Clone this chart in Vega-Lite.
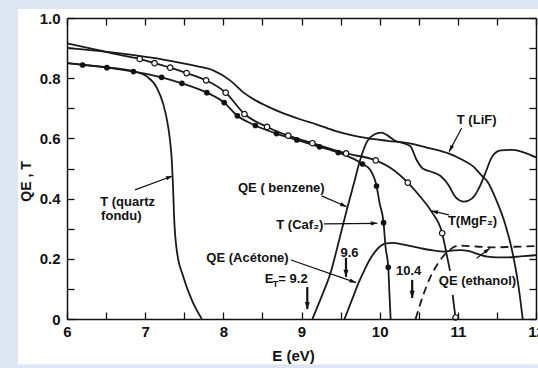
{
  "$schema": "https://vega.github.io/schema/vega-lite/v6.json",
  "width": 469,
  "height": 301,
  "autosize": {"type": "none"},
  "padding": {"left": 67, "top": 18, "right": 2, "bottom": 49},
  "background": "#dde7f3",
  "config": {
    "view": {"stroke": null},
    "axis": {
      "domainColor": "#111",
      "domainWidth": 1.5,
      "tickColor": "#111",
      "tickWidth": 1.3,
      "tickSize": -7,
      "grid": false,
      "labelFont": "Liberation Sans",
      "labelFontWeight": "bold",
      "labelFontSize": 15,
      "labelColor": "#111",
      "labelOverlap": false,
      "labelFlush": false,
      "titleFont": "Liberation Sans",
      "titleFontWeight": "bold",
      "titleFontSize": 14,
      "titleColor": "#111"
    }
  },
  "datasets": {
    "curves": [
      {"s": "T (LiF)", "part": 1, "E": 6.0, "v": 0.901},
      {"s": "T (LiF)", "part": 1, "E": 6.4, "v": 0.891},
      {"s": "T (LiF)", "part": 1, "E": 6.81, "v": 0.878},
      {"s": "T (LiF)", "part": 1, "E": 7.23, "v": 0.862},
      {"s": "T (LiF)", "part": 1, "E": 7.66, "v": 0.84},
      {"s": "T (LiF)", "part": 1, "E": 7.87, "v": 0.826},
      {"s": "T (LiF)", "part": 1, "E": 8.09, "v": 0.792},
      {"s": "T (LiF)", "part": 1, "E": 8.26, "v": 0.752},
      {"s": "T (LiF)", "part": 1, "E": 8.4, "v": 0.728},
      {"s": "T (LiF)", "part": 1, "E": 8.55, "v": 0.708},
      {"s": "T (LiF)", "part": 1, "E": 8.77, "v": 0.683},
      {"s": "T (LiF)", "part": 1, "E": 9.0, "v": 0.662},
      {"s": "T (LiF)", "part": 1, "E": 9.2, "v": 0.646},
      {"s": "T (LiF)", "part": 1, "E": 9.43, "v": 0.625},
      {"s": "T (LiF)", "part": 1, "E": 9.65, "v": 0.61},
      {"s": "T (LiF)", "part": 1, "E": 9.86, "v": 0.6},
      {"s": "T (LiF)", "part": 1, "E": 10.1, "v": 0.592},
      {"s": "T (LiF)", "part": 1, "E": 10.4, "v": 0.583},
      {"s": "T (LiF)", "part": 1, "E": 10.63, "v": 0.568},
      {"s": "T (LiF)", "part": 1, "E": 10.88, "v": 0.55},
      {"s": "T (LiF)", "part": 1, "E": 11.05, "v": 0.53},
      {"s": "T (LiF)", "part": 1, "E": 11.2, "v": 0.506},
      {"s": "T (LiF)", "part": 1, "E": 11.3, "v": 0.478},
      {"s": "T (LiF)", "part": 1, "E": 11.38, "v": 0.456},
      {"s": "T (LiF)", "part": 1, "E": 11.5, "v": 0.39},
      {"s": "T (LiF)", "part": 1, "E": 11.6, "v": 0.32},
      {"s": "T (LiF)", "part": 1, "E": 11.7, "v": 0.22},
      {"s": "T (LiF)", "part": 1, "E": 11.77, "v": 0.12},
      {"s": "T (LiF)", "part": 1, "E": 11.83, "v": 0.0},

      {"s": "T (MgF2)", "part": 1, "E": 6.0, "v": 0.916},
      {"s": "T (MgF2)", "part": 1, "E": 6.4, "v": 0.893},
      {"s": "T (MgF2)", "part": 1, "E": 6.7, "v": 0.876},
      {"s": "T (MgF2)", "part": 1, "E": 6.93, "v": 0.864, "m": 1},
      {"s": "T (MgF2)", "part": 1, "E": 7.12, "v": 0.85, "m": 1},
      {"s": "T (MgF2)", "part": 1, "E": 7.32, "v": 0.835, "m": 1},
      {"s": "T (MgF2)", "part": 1, "E": 7.53, "v": 0.817, "m": 1},
      {"s": "T (MgF2)", "part": 1, "E": 7.78, "v": 0.793, "m": 1},
      {"s": "T (MgF2)", "part": 1, "E": 8.03, "v": 0.752, "m": 1},
      {"s": "T (MgF2)", "part": 1, "E": 8.27, "v": 0.681, "m": 1},
      {"s": "T (MgF2)", "part": 1, "E": 8.56, "v": 0.638, "m": 1},
      {"s": "T (MgF2)", "part": 1, "E": 8.83, "v": 0.609, "m": 1},
      {"s": "T (MgF2)", "part": 1, "E": 9.14, "v": 0.584, "m": 1},
      {"s": "T (MgF2)", "part": 1, "E": 9.57, "v": 0.55, "m": 1},
      {"s": "T (MgF2)", "part": 1, "E": 9.95, "v": 0.527, "m": 1},
      {"s": "T (MgF2)", "part": 1, "E": 10.15, "v": 0.5},
      {"s": "T (MgF2)", "part": 1, "E": 10.36, "v": 0.453, "m": 1},
      {"s": "T (MgF2)", "part": 1, "E": 10.52, "v": 0.406},
      {"s": "T (MgF2)", "part": 1, "E": 10.665, "v": 0.356},
      {"s": "T (MgF2)", "part": 1, "E": 10.8, "v": 0.285, "m": 1},
      {"s": "T (MgF2)", "part": 1, "E": 10.85, "v": 0.224},
      {"s": "T (MgF2)", "part": 1, "E": 10.9, "v": 0.16},
      {"s": "T (MgF2)", "part": 2, "E": 10.934, "v": 0.08},
      {"s": "T (MgF2)", "part": 2, "E": 10.97, "v": 0.005, "m": 1},

      {"s": "T (CaF2)", "part": 1, "E": 6.0, "v": 0.85},
      {"s": "T (CaF2)", "part": 1, "E": 6.2, "v": 0.844, "m": 1},
      {"s": "T (CaF2)", "part": 1, "E": 6.51, "v": 0.835, "m": 1},
      {"s": "T (CaF2)", "part": 1, "E": 6.85, "v": 0.822, "m": 1},
      {"s": "T (CaF2)", "part": 1, "E": 7.21, "v": 0.803, "m": 1},
      {"s": "T (CaF2)", "part": 1, "E": 7.47, "v": 0.783, "m": 1},
      {"s": "T (CaF2)", "part": 1, "E": 7.79, "v": 0.752, "m": 1},
      {"s": "T (CaF2)", "part": 1, "E": 8.01, "v": 0.719, "m": 1},
      {"s": "T (CaF2)", "part": 1, "E": 8.18, "v": 0.675, "m": 1},
      {"s": "T (CaF2)", "part": 1, "E": 8.41, "v": 0.643, "m": 1},
      {"s": "T (CaF2)", "part": 1, "E": 8.68, "v": 0.616, "m": 1},
      {"s": "T (CaF2)", "part": 1, "E": 8.94, "v": 0.595, "m": 1},
      {"s": "T (CaF2)", "part": 1, "E": 9.23, "v": 0.572, "m": 1},
      {"s": "T (CaF2)", "part": 1, "E": 9.47, "v": 0.553, "m": 1},
      {"s": "T (CaF2)", "part": 1, "E": 9.78, "v": 0.515, "m": 1},
      {"s": "T (CaF2)", "part": 1, "E": 9.88, "v": 0.495},
      {"s": "T (CaF2)", "part": 1, "E": 9.96, "v": 0.442, "m": 1},
      {"s": "T (CaF2)", "part": 1, "E": 10.0, "v": 0.384},
      {"s": "T (CaF2)", "part": 1, "E": 10.05, "v": 0.32, "m": 1},
      {"s": "T (CaF2)", "part": 1, "E": 10.075, "v": 0.24},
      {"s": "T (CaF2)", "part": 1, "E": 10.11, "v": 0.172, "m": 1},
      {"s": "T (CaF2)", "part": 1, "E": 10.125, "v": 0.085},
      {"s": "T (CaF2)", "part": 1, "E": 10.14, "v": 0.0},

      {"s": "T (quartz fondu)", "part": 1, "E": 6.0, "v": 0.85},
      {"s": "T (quartz fondu)", "part": 1, "E": 6.2, "v": 0.845},
      {"s": "T (quartz fondu)", "part": 1, "E": 6.51, "v": 0.836},
      {"s": "T (quartz fondu)", "part": 1, "E": 6.85, "v": 0.823},
      {"s": "T (quartz fondu)", "part": 1, "E": 7.02, "v": 0.806},
      {"s": "T (quartz fondu)", "part": 1, "E": 7.15, "v": 0.768},
      {"s": "T (quartz fondu)", "part": 1, "E": 7.23, "v": 0.715},
      {"s": "T (quartz fondu)", "part": 1, "E": 7.28, "v": 0.66},
      {"s": "T (quartz fondu)", "part": 1, "E": 7.315, "v": 0.6},
      {"s": "T (quartz fondu)", "part": 1, "E": 7.34, "v": 0.53},
      {"s": "T (quartz fondu)", "part": 1, "E": 7.355, "v": 0.45},
      {"s": "T (quartz fondu)", "part": 1, "E": 7.37, "v": 0.34},
      {"s": "T (quartz fondu)", "part": 1, "E": 7.405, "v": 0.227},
      {"s": "T (quartz fondu)", "part": 1, "E": 7.49, "v": 0.139},
      {"s": "T (quartz fondu)", "part": 1, "E": 7.6, "v": 0.061},
      {"s": "T (quartz fondu)", "part": 1, "E": 7.725, "v": 0.0},

      {"s": "QE (benzene)", "part": 1, "E": 9.14, "v": 0.0},
      {"s": "QE (benzene)", "part": 1, "E": 9.25, "v": 0.07},
      {"s": "QE (benzene)", "part": 1, "E": 9.37, "v": 0.152},
      {"s": "QE (benzene)", "part": 1, "E": 9.48, "v": 0.26},
      {"s": "QE (benzene)", "part": 1, "E": 9.59, "v": 0.373},
      {"s": "QE (benzene)", "part": 1, "E": 9.67, "v": 0.45},
      {"s": "QE (benzene)", "part": 1, "E": 9.75, "v": 0.528},
      {"s": "QE (benzene)", "part": 1, "E": 9.84, "v": 0.59},
      {"s": "QE (benzene)", "part": 1, "E": 9.93, "v": 0.613},
      {"s": "QE (benzene)", "part": 1, "E": 10.02, "v": 0.619},
      {"s": "QE (benzene)", "part": 1, "E": 10.1, "v": 0.61},
      {"s": "QE (benzene)", "part": 1, "E": 10.18, "v": 0.595},
      {"s": "QE (benzene)", "part": 1, "E": 10.39, "v": 0.575},
      {"s": "QE (benzene)", "part": 1, "E": 10.47, "v": 0.53},
      {"s": "QE (benzene)", "part": 1, "E": 10.55, "v": 0.5},
      {"s": "QE (benzene)", "part": 1, "E": 10.65, "v": 0.49},
      {"s": "QE (benzene)", "part": 1, "E": 10.78, "v": 0.475},
      {"s": "QE (benzene)", "part": 1, "E": 10.88, "v": 0.445},
      {"s": "QE (benzene)", "part": 1, "E": 10.97, "v": 0.405},
      {"s": "QE (benzene)", "part": 1, "E": 11.08, "v": 0.39},
      {"s": "QE (benzene)", "part": 1, "E": 11.18, "v": 0.4},
      {"s": "QE (benzene)", "part": 1, "E": 11.28, "v": 0.44},
      {"s": "QE (benzene)", "part": 1, "E": 11.36, "v": 0.49},
      {"s": "QE (benzene)", "part": 1, "E": 11.44, "v": 0.54},
      {"s": "QE (benzene)", "part": 1, "E": 11.55, "v": 0.56},
      {"s": "QE (benzene)", "part": 1, "E": 11.7, "v": 0.562},
      {"s": "QE (benzene)", "part": 1, "E": 11.85, "v": 0.553},
      {"s": "QE (benzene)", "part": 1, "E": 12.0, "v": 0.537},

      {"s": "QE (Acétone)", "part": 1, "E": 9.55, "v": 0.0},
      {"s": "QE (Acétone)", "part": 1, "E": 9.64, "v": 0.06},
      {"s": "QE (Acétone)", "part": 1, "E": 9.73, "v": 0.12},
      {"s": "QE (Acétone)", "part": 1, "E": 9.81, "v": 0.165},
      {"s": "QE (Acétone)", "part": 1, "E": 9.88, "v": 0.2},
      {"s": "QE (Acétone)", "part": 1, "E": 9.98, "v": 0.235},
      {"s": "QE (Acétone)", "part": 1, "E": 10.08, "v": 0.251},
      {"s": "QE (Acétone)", "part": 1, "E": 10.18, "v": 0.253},
      {"s": "QE (Acétone)", "part": 1, "E": 10.27, "v": 0.249},
      {"s": "QE (Acétone)", "part": 1, "E": 10.4, "v": 0.242},
      {"s": "QE (Acétone)", "part": 1, "E": 10.53, "v": 0.235},
      {"s": "QE (Acétone)", "part": 1, "E": 10.68, "v": 0.228},
      {"s": "QE (Acétone)", "part": 1, "E": 10.82, "v": 0.224},
      {"s": "QE (Acétone)", "part": 1, "E": 10.95, "v": 0.228},
      {"s": "QE (Acétone)", "part": 1, "E": 11.04, "v": 0.229},
      {"s": "QE (Acétone)", "part": 1, "E": 11.13, "v": 0.226},
      {"s": "QE (Acétone)", "part": 1, "E": 11.21, "v": 0.22},
      {"s": "QE (Acétone)", "part": 1, "E": 11.3, "v": 0.212},
      {"s": "QE (Acétone)", "part": 1, "E": 11.38, "v": 0.207},
      {"s": "QE (Acétone)", "part": 1, "E": 11.5, "v": 0.205},
      {"s": "QE (Acétone)", "part": 1, "E": 11.64, "v": 0.205},
      {"s": "QE (Acétone)", "part": 1, "E": 11.8, "v": 0.208},
      {"s": "QE (Acétone)", "part": 1, "E": 12.0, "v": 0.212},

      {"s": "QE (ethanol)", "part": 1, "E": 10.46, "v": 0.0},
      {"s": "QE (ethanol)", "part": 1, "E": 10.55, "v": 0.074},
      {"s": "QE (ethanol)", "part": 1, "E": 10.65, "v": 0.14},
      {"s": "QE (ethanol)", "part": 1, "E": 10.76, "v": 0.19},
      {"s": "QE (ethanol)", "part": 1, "E": 10.87, "v": 0.224},
      {"s": "QE (ethanol)", "part": 1, "E": 11.02, "v": 0.244},
      {"s": "QE (ethanol)", "part": 1, "E": 11.21, "v": 0.241},
      {"s": "QE (ethanol)", "part": 1, "E": 11.47, "v": 0.238},
      {"s": "QE (ethanol)", "part": 1, "E": 11.72, "v": 0.24},
      {"s": "QE (ethanol)", "part": 1, "E": 12.0, "v": 0.242}
    ],
    "labels": [
      {"t": "T (LiF)", "E": 11.241, "v": 0.661},
      {"t": "T (quartz", "E": 6.776, "v": 0.388},
      {"t": "fondu)", "E": 6.695, "v": 0.342},
      {"t": "QE ( benzene)", "E": 8.742, "v": 0.434},
      {"t": "T (Caf₂)", "E": 8.978, "v": 0.312},
      {"t": "QE (Acétone)", "E": 8.309, "v": 0.204},
      {"t": "T(MgF₂)", "E": 11.187, "v": 0.325},
      {"t": "QE (ethanol)", "E": 11.251, "v": 0.127},
      {"t": "9.6", "E": 9.614, "v": 0.218},
      {"t": "10.4", "E": 10.371, "v": 0.161},
      {"t": "E", "E": 8.585, "v": 0.133},
      {"t": "= 9.2", "E": 8.891, "v": 0.133}
    ],
    "subscripts": [
      {"t": "T", "E": 8.668, "v": 0.116}
    ],
    "pointers": [
      {"E0": 11.048, "v0": 0.634, "E1": 10.889, "v1": 0.556},
      {"E0": 6.87, "v0": 0.429, "E1": 7.35, "v1": 0.475},
      {"E0": 9.258, "v0": 0.409, "E1": 9.578, "v1": 0.373},
      {"E0": 9.288, "v0": 0.316, "E1": 9.97, "v1": 0.318},
      {"E0": 8.866, "v0": 0.196, "E1": 9.697, "v1": 0.121},
      {"E0": 10.887, "v0": 0.346, "E1": 10.663, "v1": 0.359},
      {"E0": 11.241, "v0": 0.202, "E1": 11.411, "v1": 0.235}
    ],
    "thresholds": [
      {"E0": 9.074, "v0": 0.106, "E1": 9.074, "v1": 0.033},
      {"E0": 9.569, "v0": 0.203, "E1": 9.569, "v1": 0.14},
      {"E0": 10.416, "v0": 0.13, "E1": 10.416, "v1": 0.07}
    ]
  },
  "layer": [
    {
      "data": {"values": [{}]},
      "mark": {"type": "rect", "fill": "white", "clip": false},
      "encoding": {
        "x": {"datum": 5.373, "type": "quantitative", "scale": {"domain": [6, 12], "nice": false, "zero": false}, "axis": null},
        "x2": {"datum": 12.1},
        "y": {"datum": -0.15, "type": "quantitative", "scale": {"domain": [0, 1], "nice": false, "zero": false}, "axis": null},
        "y2": {"datum": 1.03}
      }
    },
    {
      "data": {"name": "curves"},
      "transform": [{"filter": "datum.s !== 'QE (ethanol)'"}],
      "mark": {"type": "line", "interpolate": "monotone", "color": "#1a1a1a", "strokeWidth": 1.8, "clip": true},
      "encoding": {
        "x": {
          "field": "E", "type": "quantitative",
          "scale": {"domain": [6, 12], "nice": false, "zero": false},
          "axis": {
            "orient": "bottom",
            "zindex": 1,
            "values": [6, 6.5, 7, 7.5, 8, 8.5, 9, 9.5, 10, 10.5, 11, 11.5, 12],
            "labelExpr": "datum.value % 1 === 0 ? format(datum.value, 'd') : ''",
            "labelPadding": 12,
            "title": "E (eV)",
            "titleFontSize": 15,
            "titleX": 226,
            "titleY": 36,
            "titleBaseline": "middle"
          }
        },
        "y": {
          "field": "v", "type": "quantitative",
          "scale": {"domain": [0, 1], "nice": false, "zero": false},
          "axis": {
            "orient": "left",
            "zindex": 1,
            "values": [0, 0.1, 0.2, 0.3, 0.4, 0.5, 0.6, 0.7, 0.8, 0.9, 1.0],
            "labelExpr": "round(datum.value * 10) % 2 === 0 ? (datum.value === 0 ? '0' : format(datum.value, '.1f')) : ''",
            "labelPadding": 14,
            "title": "QE , T",
            "titleX": -41,
            "titleY": 163,
            "titleAlign": "center",
            "titleBaseline": "middle"
          }
        },
        "detail": [{"field": "s"}, {"field": "part"}]
      }
    },
    {
      "data": {"name": "curves"},
      "transform": [{"filter": "datum.s === 'QE (ethanol)'"}],
      "mark": {"type": "line", "interpolate": "monotone", "color": "#1a1a1a", "strokeWidth": 1.8, "strokeDash": [8, 5], "clip": true},
      "encoding": {
        "x": {
          "field": "E", "type": "quantitative",
          "scale": {"domain": [6, 12], "nice": false, "zero": false},
          "axis": {
            "orient": "top",
            "zindex": 1,
            "values": [6, 6.5, 7, 7.5, 8, 8.5, 9, 9.5, 10, 10.5, 11, 11.5, 12],
            "labels": false,
            "title": null
          }
        },
        "y": {
          "field": "v", "type": "quantitative",
          "scale": {"domain": [0, 1], "nice": false, "zero": false},
          "axis": {
            "orient": "right",
            "zindex": 1,
            "values": [0, 0.1, 0.2, 0.3, 0.4, 0.5, 0.6, 0.7, 0.8, 0.9, 1.0],
            "labels": false,
            "title": null
          }
        }
      }
    },
    {
      "data": {"name": "curves"},
      "transform": [{"filter": "datum.s === 'T (CaF2)' && datum.m === 1"}],
      "mark": {"type": "point", "shape": "circle", "filled": true, "color": "#111", "size": 32, "opacity": 1},
      "encoding": {
        "x": {"field": "E", "type": "quantitative", "scale": {"domain": [6, 12], "nice": false, "zero": false}, "axis": null},
        "y": {"field": "v", "type": "quantitative", "scale": {"domain": [0, 1], "nice": false, "zero": false}, "axis": null}
      }
    },
    {
      "data": {"name": "curves"},
      "transform": [{"filter": "datum.s === 'T (MgF2)' && datum.m === 1"}],
      "mark": {"type": "point", "shape": "circle", "filled": false, "fill": "white", "fillOpacity": 1, "stroke": "#111", "strokeWidth": 1.2, "size": 30, "opacity": 1},
      "encoding": {
        "x": {"field": "E", "type": "quantitative", "scale": {"domain": [6, 12], "nice": false, "zero": false}, "axis": null},
        "y": {"field": "v", "type": "quantitative", "scale": {"domain": [0, 1], "nice": false, "zero": false}, "axis": null}
      }
    },
    {
      "data": {"name": "pointers"},
      "mark": {"type": "rule", "color": "#111", "strokeWidth": 1.2},
      "encoding": {
        "x": {"field": "E0", "type": "quantitative", "scale": {"domain": [6, 12], "nice": false, "zero": false}, "axis": null},
        "y": {"field": "v0", "type": "quantitative", "scale": {"domain": [0, 1], "nice": false, "zero": false}, "axis": null},
        "x2": {"field": "E1"},
        "y2": {"field": "v1"}
      }
    },
    {
      "data": {"name": "pointers"},
      "transform": [{"calculate": "atan2((datum.E1 - datum.E0) * 469 / 6, (datum.v1 - datum.v0) * 301) * 180 / PI", "as": "ang"}],
      "mark": {"type": "point", "shape": "M0,0 L0.32,1 L-0.32,1 Z", "filled": true, "color": "#111", "size": 170, "opacity": 1},
      "encoding": {
        "x": {"field": "E1", "type": "quantitative", "scale": {"domain": [6, 12], "nice": false, "zero": false}, "axis": null},
        "y": {"field": "v1", "type": "quantitative", "scale": {"domain": [0, 1], "nice": false, "zero": false}, "axis": null},
        "angle": {"field": "ang", "type": "quantitative", "scale": null}
      }
    },
    {
      "data": {"name": "thresholds"},
      "mark": {"type": "rule", "color": "#111", "strokeWidth": 2.2},
      "encoding": {
        "x": {"field": "E0", "type": "quantitative", "scale": {"domain": [6, 12], "nice": false, "zero": false}, "axis": null},
        "y": {"field": "v0", "type": "quantitative", "scale": {"domain": [0, 1], "nice": false, "zero": false}, "axis": null},
        "y2": {"field": "v1"}
      }
    },
    {
      "data": {"name": "thresholds"},
      "transform": [{"calculate": "atan2((datum.E1 - datum.E0) * 469 / 6, (datum.v1 - datum.v0) * 301) * 180 / PI", "as": "ang"}],
      "mark": {"type": "point", "shape": "M0,0 L0.36,1 L-0.36,1 Z", "filled": true, "color": "#111", "size": 200, "opacity": 1},
      "encoding": {
        "x": {"field": "E1", "type": "quantitative", "scale": {"domain": [6, 12], "nice": false, "zero": false}, "axis": null},
        "y": {"field": "v1", "type": "quantitative", "scale": {"domain": [0, 1], "nice": false, "zero": false}, "axis": null},
        "angle": {"field": "ang", "type": "quantitative", "scale": null}
      }
    },
    {
      "data": {"name": "labels"},
      "mark": {"type": "text", "font": "Liberation Sans", "fontWeight": "bold", "fontSize": 13, "color": "#111", "align": "center", "baseline": "middle"},
      "encoding": {
        "x": {"field": "E", "type": "quantitative", "scale": {"domain": [6, 12], "nice": false, "zero": false}, "axis": null},
        "y": {"field": "v", "type": "quantitative", "scale": {"domain": [0, 1], "nice": false, "zero": false}, "axis": null},
        "text": {"field": "t"}
      }
    },
    {
      "data": {"name": "subscripts"},
      "mark": {"type": "text", "font": "Liberation Sans", "fontWeight": "bold", "fontSize": 9, "color": "#111", "align": "center", "baseline": "middle"},
      "encoding": {
        "x": {"field": "E", "type": "quantitative", "scale": {"domain": [6, 12], "nice": false, "zero": false}, "axis": null},
        "y": {"field": "v", "type": "quantitative", "scale": {"domain": [0, 1], "nice": false, "zero": false}, "axis": null},
        "text": {"field": "t"}
      }
    }
  ],
  "resolve": {"axis": {"x": "independent", "y": "independent"}}
}
